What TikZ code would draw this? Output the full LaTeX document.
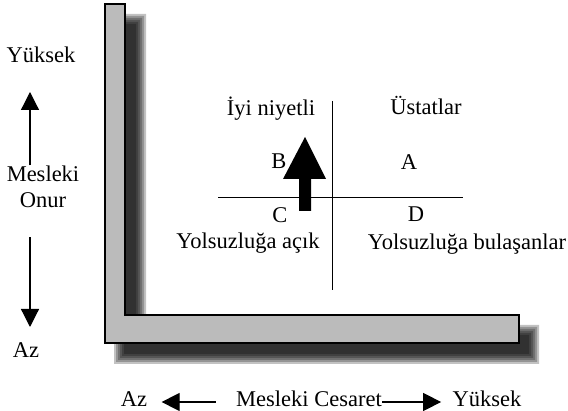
\documentclass[tikz,border=0pt]{standalone}
\usepackage{fontspec}
\setmainfont{Liberation Serif}
\usetikzlibrary{arrows.meta}
\definecolor{barfill}{RGB}{187,187,187}
\tikzset{every picture/.style={line width=1pt}}
\tikzset{
  lbl/.style={font=\fontsize{22.5}{26}\selectfont, inner sep=0pt, text height=15pt, text depth=5pt, align=center},
  axisarrow/.style={line width=1.2pt, -{Triangle[width=18pt,length=18pt]}},
}

\begin{document}
\begin{tikzpicture}[x=1pt,y=1pt,yscale=-1,xscale=1]
\useasboundingbox (0,0) rectangle (568,411);

%Soft shadow of the frame
\foreach \d in {-4,-2,0,2,4,6}
  \fill [black, fill opacity=0.24] (120-\d,20-\d) -- (140+\d,20-\d) -- (140+\d,331-\d) -- (533+\d,331-\d) -- (533+\d,358+\d) -- (120-\d,358+\d) -- cycle ;
%Frame
\draw [fill=barfill, line width=1.2pt] (105,4) -- (125,4) -- (125,315) -- (519,315) -- (519,343) -- (105,343) -- cycle ;

%Quadrant lines
\coordinate (vtop) at (332,101);
\coordinate (vbot) at (332,290);
\coordinate (hleft) at (218,198);
\coordinate (hright) at (463,198);
\draw (vtop) -- (vbot);
\draw (hleft) -- (hright);

%Big arrow
\fill (305,137) -- (326,179) -- (311,179) -- (311,211) -- (299,211) -- (299,179) -- (283,179) -- cycle ;

% Text Node
\node [lbl] (iyi) at (271,111) {İyi niyetli};
% Text Node
\node [lbl] (ustat) at (426,110) {Üstatlar};
% Text Node
\node [lbl] (qb) at (279,163.5) {B};
% Text Node
\node [lbl] (qa) at (409,164.5) {A};
% Text Node
\node [lbl] (qc) at (280,217.5) {C};
% Text Node
\node [lbl] (qd) at (416,216.5) {D};
% Text Node
\node [lbl] (acik) at (248,244) {Yolsuzluğa açık};
% Text Node
\node [lbl] (bulasan) at (467,245) {Yolsuzluğa bulaşanlar};

%Vertical axis
\coordinate (axisx) at (30,0);
\node [lbl] (onurhi) at (41,57.5) {Yüksek};
\node [lbl] (onur) at (43,203) {Mesleki\\Onur};
\node [lbl] (onurlo) at (26,352.5) {Az};
\draw [axisarrow, shorten <=27pt, shorten >=24pt] (onur.north -| axisx) -- (onurhi.south -| axisx);
\draw [axisarrow, shorten <=24pt, shorten >=15pt] (onur.south -| axisx) -- (onurlo.north -| axisx);

%Horizontal axis
\node [lbl] (cesaretlo) at (134,402) {Az};
\node [lbl] (cesaret) at (309,402) {Mesleki Cesaret};
\node [lbl] (cesarethi) at (487,402) {Yüksek};
\draw [axisarrow, shorten <=20pt, shorten >=14pt] (cesaret.west) -- (cesaretlo.east);
\draw [axisarrow, shorten >=11pt] (cesaret.east) -- (cesarethi.west);

\end{tikzpicture}
\end{document}
